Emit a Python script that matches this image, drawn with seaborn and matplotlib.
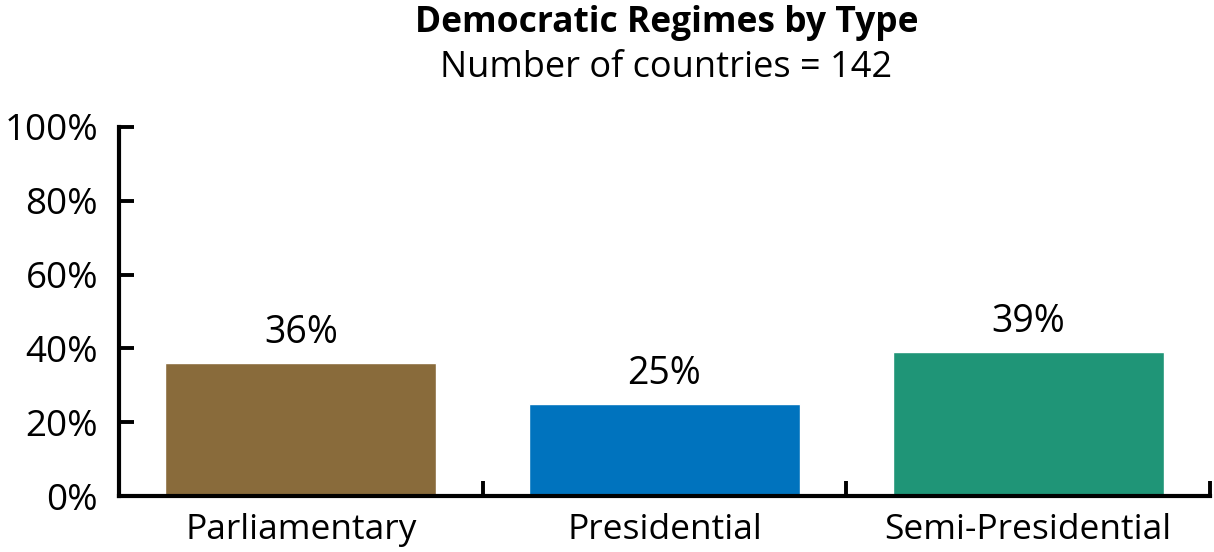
import matplotlib
matplotlib.use("Agg")
import matplotlib.pyplot as plt
import seaborn as sns
import pandas as pd
from matplotlib.ticker import FixedLocator, PercentFormatter

categories = ["Parliamentary", "Presidential", "Semi-Presidential"]
shares = [0.36, 0.25, 0.39]
bar_labels = ["36%", "25%", "39%"]
colors = ["#896B3B", "#0073BE", "#1F9577"]
yticks = [0, 0.2, 0.4, 0.6, 0.8, 1.0]

sns.set_style("white")
plt.rcParams["font.family"] = ["Open Sans", "DejaVu Sans"]
plt.rcParams["text.color"] = "black"
plt.rcParams["xtick.color"] = "black"
plt.rcParams["ytick.color"] = "black"

df = pd.DataFrame({"type": categories, "share": shares})

fig = plt.figure(figsize=(12.14, 5.52), dpi=100)
ax = fig.add_axes([0.098, 0.1014, 0.8987, 0.6686])
sns.barplot(data=df, x="type", y="share", hue="type", palette=colors,
            width=0.745, legend=False, ax=ax, saturation=1)

ax.set_xlim(-0.5, 2.5)
ax.set_ylim(0, 1)
ax.set_yticks(yticks)
ax.yaxis.set_major_formatter(PercentFormatter(1.0, decimals=0))
ax.xaxis.set_minor_locator(FixedLocator([0.5, 1.5, 2.5]))
ax.tick_params(axis="x", which="major", bottom=True, length=0, labelsize=25.5,
               labelcolor="black", pad=12)
ax.tick_params(axis="x", which="minor", bottom=True, direction="in", length=11,
               width=2.8, color="black")
ax.tick_params(axis="y", left=True, direction="in", length=11, width=2.8,
               color="black", labelcolor="black", labelsize=26.5, pad=15)
for s in ["top", "right"]:
    ax.spines[s].set_visible(False)
for s in ["left", "bottom"]:
    ax.spines[s].set_linewidth(3)
    ax.spines[s].set_color("black")
ax.set_xlabel("")
ax.set_ylabel("")

for p, lab in zip(ax.patches, bar_labels):
    ax.annotate(lab, (p.get_x() + p.get_width() / 2, p.get_height()),
                xytext=(0, 8), textcoords="offset points",
                ha="center", va="bottom", fontsize=27, color="black")

fig.text(0.549, 0.958, "Democratic Regimes by Type", ha="center", va="center",
         fontsize=25.5, fontweight="bold", color="black")
fig.text(0.549, 0.876, "Number of countries = 142", ha="center", va="center",
         fontsize=26, color="black")

fig.savefig("out.png", dpi=100)
